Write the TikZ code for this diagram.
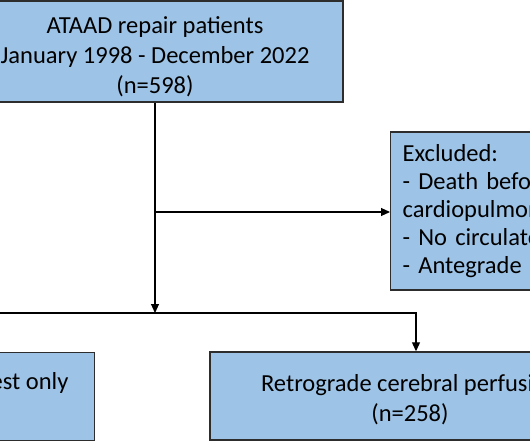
\documentclass[tikz,border=0pt]{standalone}
\usepackage{fontspec}
\setmainfont{Carlito}
\usetikzlibrary{positioning,arrows.meta}
\definecolor{boxblue}{RGB}{157,195,230}
\definecolor{boxline}{RGB}{45,45,45}
\tikzset{
  box/.style={draw=boxline, line width=1.4pt, fill=boxblue, inner sep=0pt},
  link/.style={line width=1.1pt, -{Triangle[length=9pt,width=8pt]}},
  bigtext/.style={font=\fontsize{24.5}{30}\selectfont},
  listtext/.style={font=\fontsize{24.5}{28}\selectfont},
}
\begin{document}
\begin{tikzpicture}[x=1pt,y=-1pt]
    \useasboundingbox (0,0) rectangle (530,442);
    \clip (0,0) rectangle (530,442);
    \node[box, bigtext, minimum width=376pt, minimum height=101pt, align=center] (cohort) at (155,51.5) {\rule{0pt}{28pt}ATAAD repair patients\\January 1998 - December 2022\\(n=598)};
    \node[box, listtext, anchor=west, inner xsep=12pt, text width=400pt, minimum height=158pt, align=left] (excluded) at (390,211) {Excluded:\\- Death before\\cardiopulmonary bypass\\- No circulatory arrest\\- Antegrade cerebral perfusion};
    \node[box, bigtext, minimum width=400pt, minimum height=88pt, align=center] (rcp) at (410,396) {\rule{0pt}{24pt}Retrograde cerebral perfusion\\(n=258)};
    \node[box, anchor=north east, minimum width=400pt, minimum height=88pt] (hca) at (95,352) {};
    \node[bigtext, anchor=base east] (hcatext) at (72,389) {Hypothermic circulatory arrest only};
    \coordinate (branch) at (155,212);
    \coordinate (split) at (155,313);
    \coordinate (leftend) at (-20,313);
    \draw[link] (cohort.south) -- (split);
    \draw[link] (branch) -- (branch -| excluded.west);
    \draw[link] (leftend) -| ([xshift=6pt]rcp.north);
\end{tikzpicture}
\end{document}
